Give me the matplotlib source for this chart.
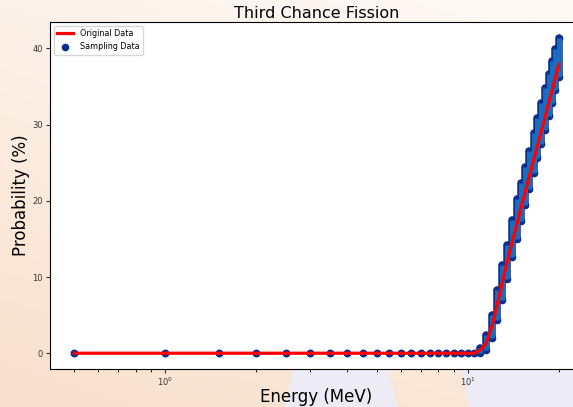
import numpy as np
import matplotlib.pyplot as plt
from matplotlib.patches import Polygon

# Incident neutron energies (MeV)
energy = [0.5, 1.0, 1.5, 2.0, 2.5, 3.0, 3.5, 4.0, 4.5, 5.0,
          5.5, 6.0, 6.5, 7.0, 7.5, 8.0, 8.5, 9.0, 9.5, 10.0,
          10.5, 11.0, 11.5, 12.0, 12.5, 13.0, 13.5, 14.0, 14.5, 15.0,
          15.5, 16.0, 16.5, 17.0, 17.5, 18.0, 18.5, 19.0, 19.5, 20.0]

# Third chance fission probability (%), evaluated data
original = [0.0, 0.0, 0.0, 0.0, 0.0, 0.0, 0.0, 0.0, 0.0, 0.0,
            0.0, 0.0, 0.0, 0.0, 0.0, 0.0, 0.0, 0.0, 0.0, 0.0,
            0.0, 0.4, 1.3, 3.4, 6.3, 9.2, 12.0, 14.5, 16.8, 19.1,
            21.2, 23.3, 25.3, 27.2, 29.1, 30.9, 32.8, 34.5, 36.2, 37.9]

# Spread of the sampled probabilities in each energy bin (%)
sample_low = [0.0, 0.0, 0.0, 0.0, 0.0, 0.0, 0.0, 0.0, 0.0, 0.0,
              0.0, 0.0, 0.0, 0.0, 0.0, 0.0, 0.0, 0.0, 0.0, 0.0,
              0.0, 0.0, 0.4, 2.0, 4.3, 7.0, 9.8, 12.6, 15.0, 17.3,
              19.5, 21.6, 23.6, 25.6, 27.5, 29.3, 31.1, 32.9, 34.6, 36.3]
sample_high = [0.0, 0.0, 0.0, 0.0, 0.0, 0.0, 0.0, 0.0, 0.0, 0.0,
               0.0, 0.0, 0.0, 0.0, 0.0, 0.0, 0.0, 0.0, 0.0, 0.0,
               0.0, 0.7, 2.4, 5.0, 8.3, 11.6, 14.2, 17.5, 20.2, 22.4,
               24.5, 26.5, 28.9, 30.9, 32.9, 34.8, 36.6, 38.3, 39.9, 41.4]

W, H = 573, 407
fig = plt.figure(figsize=(W / 100, H / 100), dpi=100)
fig.patch.set_alpha(0)

# page background behind the figure
bg = fig.add_axes([0, 0, 1, 1], zorder=-10)
yy, xx = np.mgrid[0:1:200j, 0:1:200j]
t = np.clip(0.75 * yy + 0.35 * (1 - xx) - 0.1, 0, 1)
light = np.array([254, 248, 243]) / 255
peach = np.array([249, 224, 204]) / 255
grad = light[None, None, :] * (1 - t[..., None]) + peach[None, None, :] * t[..., None]
bg.imshow(grad, extent=[0, W, H, 0], aspect='auto')
lav = '#edecf6'
bg.add_patch(Polygon([(298, 355), (384, 355), (397, 407), (285, 407)], color=lav))
bg.add_patch(Polygon([(458, 355), (573, 355), (573, 407), (470, 407)], color=lav))
bg.set_xlim(0, W)
bg.set_ylim(H, 0)
bg.axis('off')

ax = fig.add_axes([50 / W, 1 - 369 / H, 533 / W, 347 / H])
ax.set_facecolor('white')

ax.plot(energy, original, color='red', lw=2.3, label='Original Data', zorder=4)

navy = '#0c2f8e'
blue = '#1a6cc0'
e_pts = energy + energy
p_pts = sample_low + sample_high
ax.vlines(energy, sample_low, sample_high, colors=navy, lw=5.4, capstyle='round', zorder=2)
ax.scatter(e_pts, p_pts, s=20, color=navy, label='Sampling Data', zorder=2.2)
ax.vlines(energy, sample_low, sample_high, colors=blue, lw=3.6, capstyle='butt', zorder=2.5)

ax.set_xscale('log')
ax.set_title('Third Chance Fission', fontsize=11.5, pad=3)
ax.set_xlabel('Energy (MeV)', fontsize=12, labelpad=0)
ax.set_ylabel('Probability (%)', fontsize=12, labelpad=2)
ax.tick_params(labelsize=6, colors='#333333', length=3, pad=2)
ax.tick_params(which='minor', length=2)
ax.set_yticks([0, 10, 20, 30, 40])
ax.legend(loc='upper left', fontsize=5.8)

plt.savefig('out.png', dpi=100, transparent=False)
